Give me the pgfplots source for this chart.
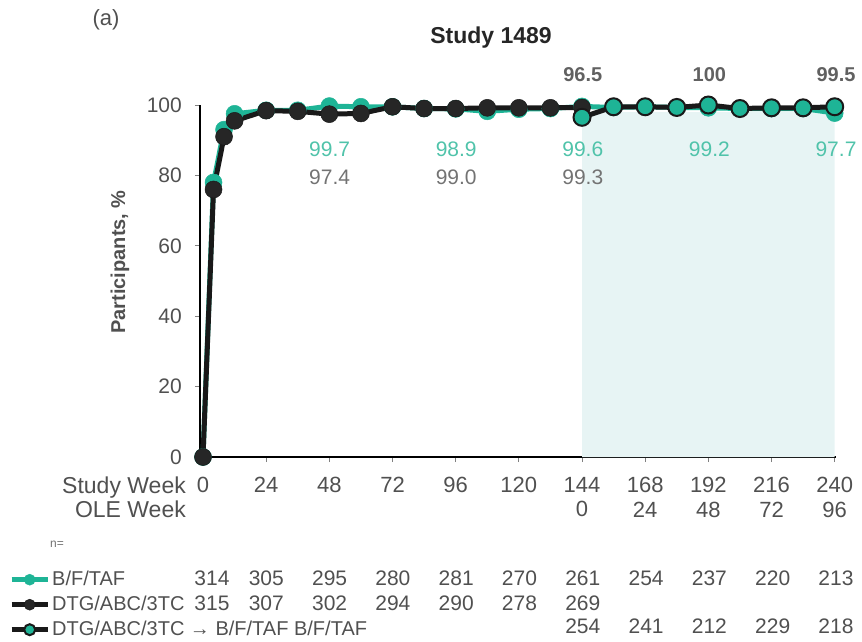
\documentclass[border=0pt]{standalone}
\usepackage{pgfplots}
\pgfplotsset{compat=1.18}
\usepackage{fontspec}
\setmainfont{Liberation Sans}
\definecolor{tealc}{RGB}{30,180,150}
\definecolor{tealtxt}{RGB}{80,195,170}
\definecolor{txtgray}{RGB}{80,80,80}
\definecolor{lblgray}{RGB}{115,115,115}
\definecolor{shade}{RGB}{231,244,244}
\newcommand{\fs}{\fontsize{21}{24}\selectfont}
\newcommand{\fx}{\fontsize{22}{24.5}\selectfont}
\begin{document}
\begin{tikzpicture}
\useasboundingbox (0pt,0pt) rectangle (862pt,641pt);
\begin{axis}[
  at={(200pt,184pt)}, anchor=south west,
  scale only axis, width=636pt, height=352pt,
  xmin=-1.14, xmax=240.5, ymin=0, ymax=100,
  axis x line*=bottom, axis y line*=left,
  axis line style={line width=2.2pt, -},
  xtick={0,24,...,240}, ytick={0,20,...,100},
  xticklabels={0,24,48,72,96,120,{144\\0},{168\\24},{192\\48},{216\\72},{240\\96}},
  tick align=outside, major tick length=5pt,
  tick style={line width=1pt, color=gray},
  x tick label style={align=center, font=\fx, text=txtgray, inner sep=0pt, yshift=-15pt},
  y tick label style={font=\fs, text=txtgray, inner sep=0pt, xshift=-13pt},
  /pgf/number format/assume math mode=true,
  clip=false,
  legend cell align=left,
  legend style={at={(-0.3003,-0.3125)}, anchor=north west, draw=none, fill=none,
    font=\fontsize{20}{24}\selectfont, text=txtgray, inner sep=0pt, row sep=0pt,
    nodes={text height=16pt, text depth=5pt, inner sep=2pt}},
]
\addplot[fill=shade, draw=none, forget plot] coordinates {(144,0) (240,0) (240,98) (144,98)} \closedcycle;
\addplot[tealc, line width=5pt, mark=*, mark size=8.5pt, mark options={fill=tealc, draw=tealc, line width=0.5pt},
  legend image code/.code={\draw[mark repeat=2, mark phase=2, line width=5pt, mark size=5.5pt] plot coordinates {(0pt,0pt) (18pt,0pt) (36pt,0pt)};}]
coordinates {(0,0) (4,78) (8,93) (12,97.5) (24,98.5) (36,98.5) (48,99.7) (60,99.5) (72,99.5) (84,99) (96,98.9) (108,98.2) (120,98.8) (132,99) (144,99.6) (156,99.3) (168,99.5) (180,99.3) (192,99.2) (204,99) (216,99) (228,99) (240,97.7)};
\addlegendentry{B/F/TAF}
\addplot[black!90, line width=5pt, mark=*, mark size=8.5pt, mark options={fill=black!85, draw=black!90, line width=0.5pt},
  legend image code/.code={\draw[mark repeat=2, mark phase=2, line width=5pt, mark size=5.5pt] plot coordinates {(0pt,0pt) (18pt,0pt) (36pt,0pt)};}]
coordinates {(0,0) (4,76) (8,91) (12,95.5) (24,98.4) (36,98.2) (48,97.4) (60,97.6) (72,99.5) (84,99) (96,99.0) (108,99.2) (120,99.2) (132,99.2) (144,99.3)};
\addlegendentry{DTG/ABC/3TC}
\addplot[black!90, line width=5pt, mark=*, mark size=8.5pt, mark options={fill=tealc, draw=black!90, line width=2pt},
  legend image code/.code={\draw[mark repeat=2, mark phase=2, line width=5pt, mark size=5.5pt] plot coordinates {(0pt,0pt) (18pt,0pt) (36pt,0pt)};}]
coordinates {(144,96.5) (156,99.5) (168,99.5) (180,99.3) (192,100) (204,99) (216,99.2) (228,99.2) (240,99.5)};
\addlegendentry{DTG/ABC/3TC \textrightarrow\ B/F/TAF B/F/TAF}
\end{axis}
% titles and labels
\node[font=\fontsize{22}{24}\selectfont, text=txtgray] at (106pt,621pt) {(a)};
\node[font=\bfseries\fontsize{23}{26}\selectfont, text=black!85] at (491pt,603pt) {Study 1489};
\node[font=\bfseries\fontsize{20}{24}\selectfont, text=txtgray, rotate=90] at (120pt,379pt) {Participants, \%};
\node[font=\fontsize{23}{25}\selectfont, text=txtgray, anchor=base east, inner sep=0pt] at (186pt,148pt) {Study Week};
\node[font=\fontsize{23}{25}\selectfont, text=txtgray, anchor=base east, inner sep=0pt] at (186pt,124pt) {OLE Week};
\node[font=\fontsize{12}{14}\selectfont, text=lblgray, anchor=base west, inner sep=0pt] at (50pt,94pt) {n=};
% value labels
\foreach \w/\v in {144/96.5,192/100,240/99.5}
  \node[font=\bfseries\fontsize{20}{24}\selectfont, text=txtgray!90, anchor=base] at ({203pt+2.6375pt*\w},559pt) {\v};
\foreach \w/\v in {48/99.7,96/98.9,144/99.6,192/99.2,240/97.7}
  \node[font=\fs, text=tealtxt, anchor=base] at ({203pt+2.6375pt*\w},484pt) {\v};
\foreach \w/\v in {48/97.4,96/99.0,144/99.3}
  \node[font=\fs, text=lblgray, anchor=base] at ({203pt+2.6375pt*\w},456pt) {\v};
% n table
\node[font=\fs, text=txtgray, anchor=base] at (212pt,56pt) {314};
\node[font=\fs, text=txtgray, anchor=base] at (212pt,31pt) {315};
\foreach \w/\n in {24/305,48/295,72/280,96/281,120/270,144/261,168/254,192/237,216/220,240/213}
  \node[font=\fs, text=txtgray, anchor=base] at ({203pt+2.6375pt*\w},56pt) {\n};
\foreach \w/\n in {24/307,48/302,72/294,96/290,120/278,144/269}
  \node[font=\fs, text=txtgray, anchor=base] at ({203pt+2.6375pt*\w},31pt) {\n};
\foreach \w/\n in {144/254,168/241,192/212,216/229,240/218}
  \node[font=\fs, text=txtgray, anchor=base] at ({203pt+2.6375pt*\w},8pt) {\n};
\end{tikzpicture}
\end{document}
